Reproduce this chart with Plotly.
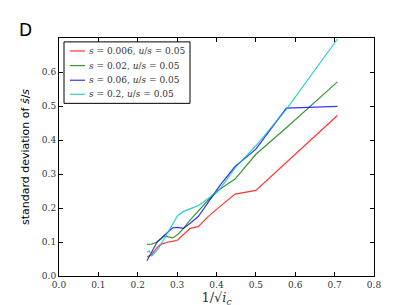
import plotly.graph_objects as go

# x positions: 1/sqrt(i_c) for i_c = 20 ... 2
x_vals = [0.2236, 0.2294, 0.2357, 0.2425, 0.2500, 0.2582, 0.2673, 0.2774, 0.2887,
          0.3015, 0.3162, 0.3333, 0.3536, 0.3780, 0.4082, 0.4472, 0.5000, 0.5774, 0.7071]

red_s0006 = [0.056, 0.060, 0.064, 0.074, 0.085, 0.093, 0.097, 0.100, 0.102,
             0.106, 0.122, 0.140, 0.145, 0.174, 0.204, 0.241, 0.252, 0.335, 0.472]
green_s002 = [0.093, 0.093, 0.094, 0.097, 0.100, 0.108, 0.118, 0.115, 0.112,
              0.122, 0.140, 0.165, 0.190, 0.222, 0.255, 0.285, 0.358, 0.436, 0.571]
blue_s006 = [0.045, 0.058, 0.070, 0.085, 0.102, 0.110, 0.120, 0.132, 0.142,
             0.143, 0.140, 0.155, 0.175, 0.215, 0.266, 0.322, 0.373, 0.494, 0.499]
cyan_s02 = [0.070, 0.074, 0.059, 0.068, 0.077, 0.092, 0.110, 0.128, 0.150,
            0.178, 0.190, 0.197, 0.207, 0.227, 0.255, 0.318, 0.383, 0.490, 0.697]

series_names = ["s = 0.006, u/s = 0.05", "s = 0.02, u/s = 0.05",
                "s = 0.06, u/s = 0.05", "s = 0.2, u/s = 0.05"]
series_vals = [red_s0006, green_s002, blue_s006, cyan_s02]
colors = ["rgba(255,0,0,0.8)", "rgba(0,128,0,0.8)", "rgba(0,0,255,0.8)", "rgba(0,191,191,0.8)"]

x_ticks = [0.0, 0.1, 0.2, 0.3, 0.4, 0.5, 0.6, 0.7, 0.8]
y_ticks = [0.0, 0.1, 0.2, 0.3, 0.4, 0.5, 0.6]


def legend_label(name):
    a, b = name.split(", ")
    sv = a.split(" = ")[1]
    uv = b.split(" = ")[1]
    return f"<i>s</i> = {sv}, <i>u</i>/<i>s</i> = {uv}"


fig = go.Figure()
for name, vals, col in zip(series_names, series_vals, colors):
    fig.add_trace(go.Scatter(x=x_vals, y=vals, mode="lines", name=name,
                             line=dict(color=col, width=1.2), showlegend=False))

axis_common = dict(showgrid=False, zeroline=False, showline=True, linecolor="black",
                   linewidth=1, mirror="ticks", ticks="inside", ticklen=4,
                   tickcolor="black", tickfont=dict(family="DejaVu Serif", size=9, color="#333"))

fig.update_xaxes(range=[0, 0.8], tickvals=x_ticks, ticktext=[f"{v:.1f}" for v in x_ticks],
                 title=dict(text="1/√<i>i</i><sub><i>c</i></sub>",
                            font=dict(family="DejaVu Serif", size=13, color="#333"), standoff=2),
                 **axis_common)
fig.update_yaxes(range=[0, 0.7], tickvals=y_ticks, ticktext=[f"{v:.1f}" for v in y_ticks],
                 title=dict(text="standard deviation of <i>ŝ</i>/<i>s</i>",
                            font=dict(family="DejaVu Sans", size=11, color="black"), standoff=10),
                 **axis_common)

# plot-area geometry in pixels (for placing the legend box in paper coords)
L, R, T, B = 51, 41, 30, 31
W, H = 407, 305
pw, ph = W - L - R, H - T - B


def px_x(px):
    return (px - L) / pw


def px_y(py):
    return (H - B - py) / ph


fig.update_layout(
    width=W, height=H,
    margin=dict(l=L, r=R, t=T, b=B),
    paper_bgcolor="white", plot_bgcolor="white",
    showlegend=False,
)

# legend box (drawn manually to match the compact matplotlib legend)
fig.add_shape(type="rect", xref="paper", yref="paper",
              x0=px_x(56), x1=px_x(182), y0=px_y(97), y1=px_y(34),
              line=dict(color="black", width=1), fillcolor="white", layer="above")
row_y = [43.3, 58.3, 73.3, 87.7]
for name, col, ry in zip(series_names, colors, row_y):
    fig.add_shape(type="line", xref="paper", yref="paper",
                  x0=px_x(62), x1=px_x(77), y0=px_y(ry), y1=px_y(ry),
                  line=dict(color=col, width=1.2), layer="above")
    fig.add_annotation(text=legend_label(name), xref="paper", yref="paper",
                       x=px_x(79), y=px_y(ry), xanchor="left", yanchor="middle",
                       showarrow=False,
                       font=dict(family="DejaVu Serif", size=9, color="#333"))

fig.add_annotation(text="D", xref="paper", yref="paper",
                   x=px_x(9), y=px_y(22), showarrow=False,
                   xanchor="left", yanchor="middle",
                   font=dict(family="DejaVu Sans", size=17, color="black"))

fig.write_html("out.html")
